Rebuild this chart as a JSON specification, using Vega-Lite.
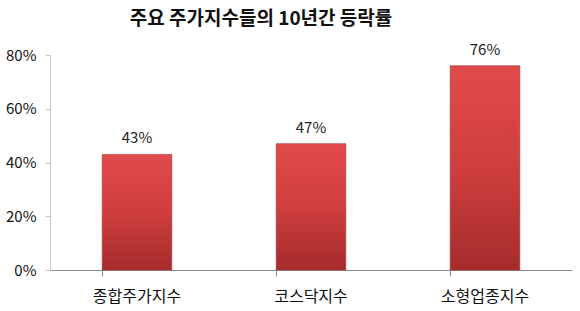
{
  "$schema": "https://vega.github.io/schema/vega-lite/v6.json",
  "width": 522,
  "height": 215,
  "autosize": {"type": "none"},
  "padding": {"left": 50, "top": 55, "right": 8, "bottom": 41},
  "background": "white",
  "config": {"view": {"stroke": null}, "font": "Noto Sans CJK KR"},
  "title": {
    "text": "주요 주가지수들의 10년간 등락률",
    "font": "Noto Sans CJK KR",
    "fontSize": 19,
    "fontWeight": "bold",
    "color": "#111111",
    "anchor": "middle",
    "dx": -50,
    "offset": 14
  },
  "data": {
    "values": [
      {"index": "종합주가지수", "rate": 0.43},
      {"index": "코스닥지수", "rate": 0.47},
      {"index": "소형업종지수", "rate": 0.76}
    ]
  },
  "encoding": {
    "x": {
      "field": "index",
      "type": "nominal",
      "sort": null,
      "title": null,
      "scale": {"paddingInner": 0.6, "paddingOuter": 0.3},
      "axis": {
        "labelAngle": 0,
        "labelFontSize": 16,
        "labelColor": "#111111",
        "labelFont": "Noto Sans CJK KR",
        "labelPadding": 12,
        "domainColor": "#8c8c8c",
        "tickColor": "#8c8c8c",
        "tickSize": 6,
        "bandPosition": 0
      }
    },
    "y": {
      "field": "rate",
      "type": "quantitative",
      "title": null,
      "scale": {"domain": [0, 0.8]},
      "axis": {
        "format": ".0%",
        "values": [0, 0.2, 0.4, 0.6, 0.8],
        "grid": false,
        "labelFontSize": 15,
        "labelColor": "#111111",
        "labelFont": "Noto Sans CJK KR",
        "labelPadding": 9,
        "domainColor": "#c8c8c8",
        "tickColor": "#c8c8c8",
        "tickSize": 5
      }
    }
  },
  "layer": [
    {
      "mark": {
        "type": "bar",
        "color": {
          "gradient": "linear",
          "x1": 0, "y1": 0, "x2": 0, "y2": 1,
          "stops": [
            {"offset": 0, "color": "#e24a4a"},
            {"offset": 0.5, "color": "#cf3e3e"},
            {"offset": 1, "color": "#a52c2c"}
          ]
        },
        "stroke": "#a33030",
        "strokeWidth": 1,
        "strokeOpacity": 0.6
      }
    },
    {
      "mark": {
        "type": "text",
        "dy": -16,
        "fontSize": 15,
        "color": "#222222",
        "font": "Noto Sans CJK KR"
      },
      "encoding": {
        "text": {"field": "rate", "type": "quantitative", "format": ".0%"}
      }
    }
  ]
}
